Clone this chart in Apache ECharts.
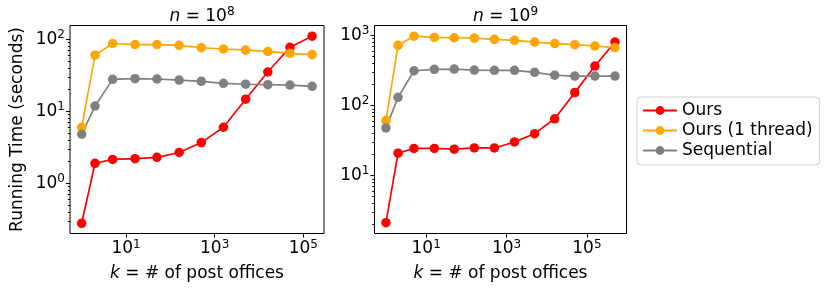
<!DOCTYPE html>
<html>
<head>
<meta charset="utf-8">
<script src="https://cdn.jsdelivr.net/npm/echarts@6/dist/echarts.min.js"></script>
<style>html,body{margin:0;padding:0;background:#fff}#c{width:831px;height:292px}</style>
</head>
<body>
<div id="c"></div>
<script>
// k values (number of post offices)
const kLeft = [1, 2, 5, 16, 50, 158, 500, 1581, 5000, 15811, 50000, 158114];
const kRight = [1, 2, 5, 16, 50, 158, 500, 1581, 5000, 15811, 50000, 158114, 500000];
// n = 10^8 running times (seconds)
const oursLeft = [0.28, 1.9, 2.15, 2.2, 2.3, 2.68, 3.68, 6.0, 14.7, 35, 77, 110];
const ours1Left = [6.0, 60, 87, 84, 84, 82, 76, 73, 70.5, 67.5, 63.5, 61];
const seqLeft = [4.8, 11.8, 27.7, 28.3, 28, 27.1, 26, 24.4, 23.7, 23.4, 23.1, 22.2];
// n = 10^9 running times (seconds)
const oursRight = [2.13, 20.9, 24.4, 24.4, 23.8, 24.8, 24.8, 30.2, 39.7, 64.7, 153, 366, 807];
const ours1Right = [61, 725, 979, 939, 929, 918, 881, 853, 807, 766, 741, 708, 673];
const seqRight = [48, 131, 314, 329, 332, 321, 318, 318, 298, 271, 264, 264, 264];
// tick labels
const xMajor = [10, 1000, 100000];
const yMajorLeft = [1, 10, 100];
const yMajorRight = [10, 100, 1000];
const titles = ['8', '9'];
const seriesNames = ['Ours', 'Ours (1 thread)', 'Sequential'];

function minors(lo, hi) {
  const out = [];
  for (let e = -2; e <= 4; e++) {
    for (let m = 2; m <= 9; m++) {
      const v = m * Math.pow(10, e);
      if (v >= lo && v <= hi) out.push(v);
    }
  }
  return out;
}
const FONT = 'DejaVu Sans';
const FS = 17;
const rich = {
  b: { fontSize: FS, fontFamily: FONT, color: '#000' },
  s: { fontSize: 12, fontFamily: FONT, color: '#000', padding: [0, 0, 9, 0] }
};
function powFmt(v) {
  const e = Math.round(Math.log10(v));
  return '{b|10}{s|' + e + '}';
}
const colors = ['#ff0000', '#ffa500', '#808080'];
const grids = [
  { left: 70, top: 25.5, width: 254, height: 208 },
  { left: 374.5, top: 25.5, width: 252, height: 208 }
];
const yExt = [[0.202, 154.5], [1.49, 1390]];
const xExt = [[0.545, 293000], [0.519, 966000]];

function xAxisDef(i) {
  return {
    type: 'log', gridIndex: i, min: xExt[i][0], max: xExt[i][1],
    axisLine: { show: false }, splitLine: { show: false },
    axisTick: { show: true, length: 4, lineStyle: { color: '#000' }, customValues: xMajor },
    axisLabel: { customValues: xMajor, formatter: powFmt, rich: rich, margin: 5 },
    name: '{i|k} = # of post offices', nameLocation: 'middle', nameGap: 32,
    nameTextStyle: { fontSize: FS, fontFamily: FONT, color: '#000',
      rich: { i: { fontSize: FS, fontFamily: FONT, fontStyle: 'italic', color: '#000' } } }
  };
}
function yMajorDef(i, ticks, withName) {
  const d = {
    type: 'log', gridIndex: i, min: yExt[i][0], max: yExt[i][1], position: 'left',
    axisLine: { show: false }, splitLine: { show: false },
    axisTick: { show: true, length: 4, lineStyle: { color: '#000' }, customValues: ticks },
    axisLabel: { customValues: ticks, formatter: powFmt, rich: rich, margin: 5 }
  };
  if (withName) {
    d.name = 'Running Time (seconds)';
    d.nameLocation = 'middle';
    d.nameGap = 44;
    d.nameTextStyle = { fontSize: FS, fontFamily: FONT, color: '#000' };
  }
  return d;
}
function yMinorDef(i) {
  const mv = minors(yExt[i][0], yExt[i][1]);
  return {
    type: 'log', gridIndex: i, min: yExt[i][0], max: yExt[i][1], position: 'left',
    axisLine: { show: false }, splitLine: { show: false },
    axisTick: { show: true, length: 2.2, lineStyle: { color: '#000' }, customValues: mv },
    axisLabel: { show: false }
  };
}
function mk(name, xs, ys, ci, gi) {
  return {
    name: name, type: 'line', xAxisIndex: gi, yAxisIndex: gi * 2,
    data: xs.map((x, j) => [x, ys[j]]),
    symbol: 'circle', symbolSize: 9.5, showSymbol: true,
    itemStyle: { color: colors[ci] },
    lineStyle: { color: colors[ci], width: 1.7 },
    emphasis: { disabled: true }, animation: false, z: 2
  };
}
const series = [
  mk(seriesNames[0], kLeft, oursLeft, 0, 0),
  mk(seriesNames[1], kLeft, ours1Left, 1, 0),
  mk(seriesNames[2], kLeft, seqLeft, 2, 0),
  mk(seriesNames[0], kRight, oursRight, 0, 1),
  mk(seriesNames[1], kRight, ours1Right, 1, 1),
  mk(seriesNames[2], kRight, seqRight, 2, 1)
];

const chart = echarts.init(document.getElementById('c'), null, { renderer: 'canvas' });
chart.setOption({
  animation: false,
  backgroundColor: '#fff',
  title: titles.map((t, i) => ({
    text: '{i|n} = 10{s|' + t + '}',
    left: grids[i].left + grids[i].width / 2, top: 1, textAlign: 'center',
    textStyle: { fontSize: FS, fontFamily: FONT, color: '#000', fontWeight: 'normal',
      rich: { i: { fontSize: FS, fontFamily: FONT, fontStyle: 'italic', color: '#000' },
              s: { fontSize: 12, fontFamily: FONT, color: '#000', padding: [0, 0, 9, 0] } } }
  })),
  grid: grids.map(g => Object.assign({ show: true, borderColor: '#000', borderWidth: 1, backgroundColor: 'transparent' }, g)),
  xAxis: [xAxisDef(0), xAxisDef(1)],
  yAxis: [yMajorDef(0, yMajorLeft, true), yMinorDef(0), yMajorDef(1, yMajorRight, false), yMinorDef(1)],
  legend: {
    data: seriesNames, orient: 'vertical', left: 637, top: 97,
    itemWidth: 34, itemHeight: 11, itemGap: 3,
    padding: [5, 7, 6, 5],
    borderColor: '#cccccc', borderWidth: 1, borderRadius: 4,
    textStyle: { fontSize: FS, fontFamily: FONT, color: '#000' },
    selectedMode: false
  },
  series: series
});
</script>
</body>
</html>
